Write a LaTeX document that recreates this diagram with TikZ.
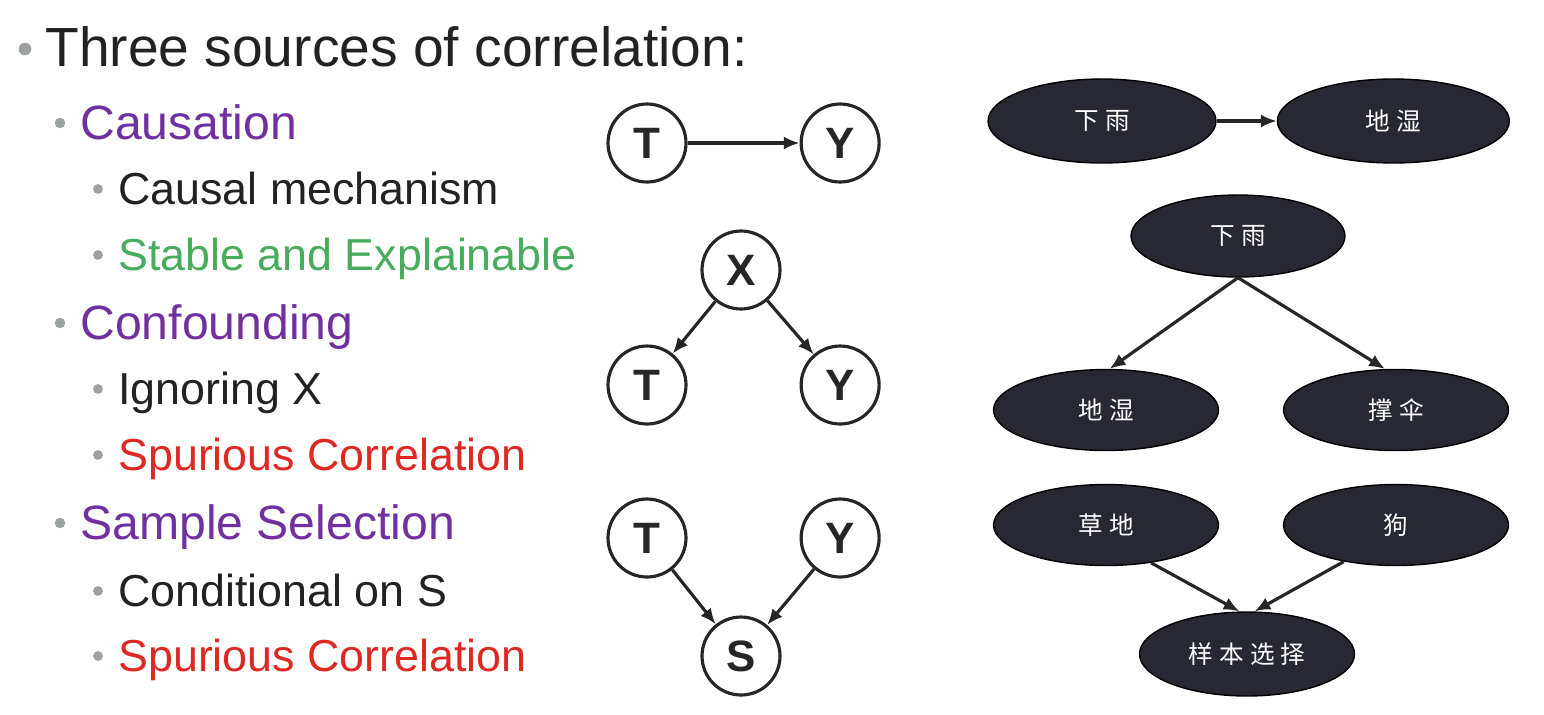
\documentclass[tikz,border=0pt]{standalone}
\usepackage{fontspec}
\setmainfont{Liberation Sans}
\newfontfamily\cjkfont[LetterSpace=25]{Noto Sans CJK SC}
\usetikzlibrary{
    positioning,      % Relative positioning
    shapes.geometric, % Ellipses
    arrows.meta       % Arrow tips
}

\definecolor{headpurple}{RGB}{112,48,160}
\definecolor{goodgreen}{RGB}{72,172,92}
\definecolor{badred}{RGB}{222,40,34}
\definecolor{bodytext}{RGB}{34,34,34}
\definecolor{bulletgrey}{RGB}{156,162,160}
\definecolor{evtfill}{RGB}{40,40,50}

\tikzset{
    lvlone/.style={anchor=base west, inner sep=0pt, text=bodytext, font=\fontsize{31.4}{36}\selectfont},
    lvltwo/.style={anchor=base west, inner sep=0pt, text=headpurple, font=\fontsize{27.4}{32}\selectfont},
    lvlthree/.style={anchor=base west, inner sep=0pt, text=bodytext, font=\fontsize{25.5}{30}\selectfont},
    var/.style={circle, draw=black!85, line width=1.8pt, minimum size=1.56cm, inner sep=0pt,
        text=black!85, font=\fontsize{25}{25}\selectfont\bfseries},
    evt/.style={ellipse, draw=black, line width=0.8pt, fill=evtfill, text=white, inner sep=0pt,
        minimum width=4.5cm, minimum height=1.62cm, font=\cjkfont\fontsize{14}{14}\selectfont},
    edge/.style={-{Latex[length=9pt,width=7.5pt]}, line width=1.8pt, draw=black!85}
}

\begin{document}
\begin{tikzpicture}[x=0.02cm,y=-0.02cm]
    \useasboundingbox (0,0) rectangle (1544,714);

    % bullet list
    \node[lvlone] (title) at (45,66) {Three sources of correlation:};
    \node[lvltwo] (cause) at (80,139) {Causation};
    \node[lvlthree] (mech) at (118,204) {Causal mechanism};
    \node[lvlthree, text=goodgreen] (stable) at (118,270) {Stable and Explainable};
    \node[lvltwo] (conf) at (80,339) {Confounding};
    \node[lvlthree] (ignx) at (118,404) {Ignoring X};
    \node[lvlthree, text=badred] (spurone) at (118,470) {Spurious Correlation};
    \node[lvltwo] (samp) at (80,539) {Sample Selection};
    \node[lvlthree] (conds) at (118,606) {Conditional on S};
    \node[lvlthree, text=badred] (spurtwo) at (118,671) {Spurious Correlation};

    \foreach \n/\dy/\r in {title/17/3.6pt, cause/16/3pt, conf/16/3pt, samp/16/3pt,
        mech/15/2.8pt, stable/15/2.8pt, ignx/15/2.8pt, spurone/15/2.8pt,
        conds/15/2.8pt, spurtwo/15/2.8pt}
        \fill[bulletgrey] ([shift={(-20,-\dy)}]\n.base west) circle[radius=\r];

    % causal graphs
    \node[var] (tone) at (647,143) {T};
    \node[var, right=2.24cm of tone] (yone) {Y};
    \draw[edge] (tone) -- (yone);

    \node[var] (xtwo) at (741,270) {X};
    \node[var] (ttwo) at (647,385) {T};
    \node[var, right=2.24cm of ttwo] (ytwo) {Y};
    \draw[edge] (xtwo) -- (ttwo);
    \draw[edge] (xtwo) -- (ytwo);

    \node[var] (tthree) at (647,538) {T};
    \node[var, right=2.24cm of tthree] (ythree) {Y};
    \node[var] (sthree) at (741,656) {S};
    \draw[edge] (tthree) -- (sthree);
    \draw[edge] (ythree) -- (sthree);

    % examples
    \node[evt, minimum width=4.56cm, minimum height=1.68cm] (rainone) at (1102,121) {下雨};
    \node[evt, minimum width=4.64cm, minimum height=1.68cm, right=1.2cm of rainone] (wetone) {地湿};
    \draw[edge] (rainone) -- (wetone);

    \node[evt, minimum width=4.28cm, minimum height=1.64cm] (raintwo) at (1238,236) {下雨};
    \node[evt] (wettwo) at (1106,410) {地湿};
    \node[evt] (umbrella) at (1396,410) {撑伞};
    \draw[edge] (raintwo.south) -- (wettwo.85);
    \draw[edge] (raintwo.south) -- (umbrella.105);

    \node[evt] (grass) at (1106,525) {草地};
    \node[evt] (dog) at (1396,525) {狗};
    \node[evt, minimum width=4.3cm, minimum height=1.68cm] (select) at (1247,654) {样本选择};
    \draw[edge] (grass.-40) -- (select.100);
    \draw[edge] (dog.-145) -- (select.80);
\end{tikzpicture}
\end{document}
